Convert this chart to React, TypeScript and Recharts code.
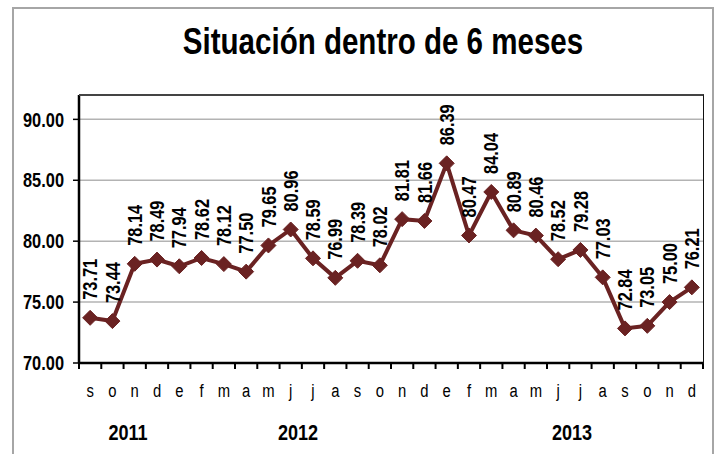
import { LineChart, Line, XAxis, YAxis, CartesianGrid, LabelList } from "recharts";

const months = ["s", "o", "n", "d", "e", "f", "m", "a", "m", "j", "j", "a", "s", "o", "n", "d", "e", "f", "m", "a", "m", "j", "j", "a", "s", "o", "n", "d"];
const values = [73.71, 73.44, 78.14, 78.49, 77.94, 78.62, 78.12, 77.5, 79.65, 80.96, 78.59, 76.99, 78.39, 78.02, 81.81, 81.66, 86.39, 80.47, 84.04, 80.89, 80.46, 78.52, 79.28, 77.03, 72.84, 73.05, 75.0, 76.21];
const yTicks = [70, 75, 80, 85, 90];
const years = ["2011", "2012", "2013"];
const yearLeft = [128, 298, 572];

const data = months.map((m, i) => ({ m, v: values[i] }));

const FONT = "'Liberation Sans', Arial, sans-serif";
const NARROW = 0.82;
const LINE = "#6a2222";
const PLOT_W = 718 - 19 - 60 - 15;
const STEP = PLOT_W / months.length;

const Diamond = (p: any) => {
  const { cx, cy } = p;
  if (cx == null || cy == null) return null;
  const s = 7.5;
  return <path d={`M${cx},${cy - s}L${cx + s},${cy}L${cx},${cy + s}L${cx - s},${cy}Z`} fill={LINE} stroke={LINE} />;
};

const ValueLabel = (p: any) => {
  const { x, y, value } = p;
  const ly = y - 18;
  return (
    <g transform={`translate(${x} ${ly}) rotate(-90) scale(${NARROW} 1)`}>
      <text x={0} y={0} textAnchor="start" dominantBaseline="central"
        fontFamily={FONT} fontSize={20} fontWeight="bold" fill="#000">
        {Number(value).toFixed(2)}
      </text>
    </g>
  );
};

// month letter under each point, tick marks on the band edges
const MonthTick = (p: any) => {
  const x = Number(p.x);
  const y = Number(p.y);
  const last = p.index === months.length - 1;
  return (
    <g transform={`translate(${x} ${y})`}>
      <rect x={-STEP / 2 - 1} y={0} width={2} height={6} fill="#000" />
      {last && <rect x={STEP / 2 - 1} y={0} width={2} height={6} fill="#000" />}
      <g transform={`translate(0 34) scale(0.78 1)`}>
        <text x={0} y={0} textAnchor="middle" fontFamily={FONT} fontSize={19} fill="#000">{p.payload.value}</text>
      </g>
    </g>
  );
};

const ValueTick = (p: any) => {
  const { x, y, payload } = p;
  return (
    <g transform={`translate(${x} ${y}) scale(${NARROW} 1)`}>
      <text x={0} y={0} dy="0.36em" textAnchor="end" fontFamily={FONT} fontSize={20} fontWeight="bold" fill="#000">
        {Number(payload.value).toFixed(2)}
      </text>
    </g>
  );
};

export default function App() {
  const narrow = { transform: `scaleX(${NARROW})`, transformOrigin: "center" } as const;
  return (
    <div style={{ position: "relative", width: 718, height: 454, overflow: "hidden", background: "#fff", fontFamily: FONT }}>
      <style>{`body{margin:0}`}</style>
      <div style={{ position: "absolute", left: 12, top: 7, width: 702, height: 470, border: "2px solid #a6a6a6", boxSizing: "border-box" }} />
      <div style={{ position: "absolute", left: 0, top: 21, width: 766, textAlign: "center", fontSize: 36, fontWeight: "bold", color: "#000", ...narrow }}>
        Situación dentro de 6 meses
      </div>
      {years.map((y, i) => (
        <div key={y} style={{ position: "absolute", left: yearLeft[i] - 30, width: 60, top: 420, textAlign: "center", fontSize: 22, fontWeight: "bold", color: "#000", ...narrow }}>{y}</div>
      ))}
      <div style={{ position: "absolute", left: 0, top: 0 }}>
        <LineChart width={718} height={454} data={data} margin={{ top: 95, right: 15, bottom: 21, left: 19 }}>
          <CartesianGrid vertical={false} stroke="#b3b3b3" strokeWidth={1.5} />
          <XAxis dataKey="m" height={70} padding={{ left: STEP / 2, right: STEP / 2 }} interval={0}
            axisLine={{ stroke: "#000", strokeWidth: 2.5 }} tickLine={false} tickSize={0} tickMargin={0} tick={<MonthTick />} />
          <YAxis domain={[70, 92]} ticks={yTicks} width={60} interval={0}
            axisLine={{ stroke: "#000", strokeWidth: 2.5 }} tickLine={{ stroke: "#000", strokeWidth: 1.5 }} tickSize={6} tickMargin={9}
            tick={<ValueTick />} />
          <Line dataKey="v" stroke={LINE} strokeWidth={4} dot={<Diamond />} activeDot={false} isAnimationActive={false}>
            <LabelList dataKey="v" content={<ValueLabel />} />
          </Line>
        </LineChart>
      </div>
      <div style={{ position: "absolute", left: 79, top: 94, width: 625, height: 270, borderTop: "2px solid #444", borderRight: "1.5px solid #111", boxSizing: "border-box", pointerEvents: "none" }} />
    </div>
  );
}
